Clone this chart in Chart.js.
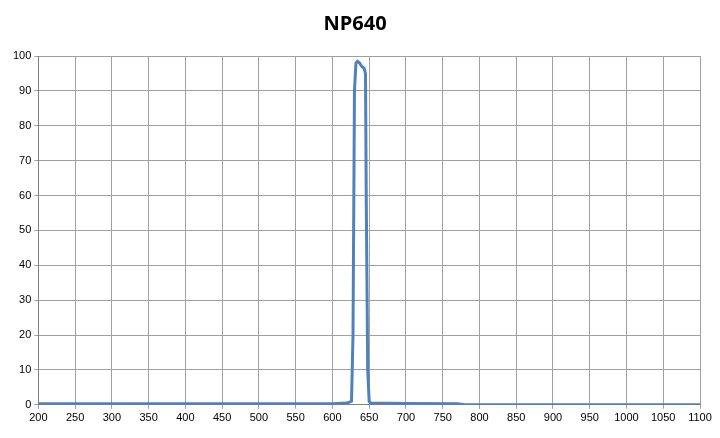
<!DOCTYPE html>
<html>
<head>
<script src="https://cdn.jsdelivr.net/npm/chart.js"></script>
<style>
  body { margin: 0; background: #fff; }
  #wrap { width: 720px; height: 438px; }
</style>
</head>
<body>
<div id="wrap"><canvas id="myChart" width="720" height="438"></canvas></div>
<script>
var wavelengths = [200, 600, 620, 626, 628, 630, 632, 634, 637, 640, 643, 645, 646, 648, 650, 652, 700, 770, 780, 1100];
var transmission = [0.3, 0.3, 0.5, 1, 20, 90, 98, 98.5, 98, 97, 96.5, 95, 60, 10, 1, 0.5, 0.4, 0.3, 0, 0];

var points = [];
for (var i = 0; i < wavelengths.length; i++) {
  points.push({ x: wavelengths[i], y: transmission[i] });
}

new Chart(document.getElementById("myChart").getContext("2d"), {
  type: 'line',
  data: {
    datasets: [{
      data: points,
      borderColor: '#4f81bd',
      borderWidth: 3,
      pointRadius: 0,
      tension: 0,
      fill: false
    }]
  },
  options: {
    responsive: false,
    animation: false,
    layout: { padding: { left: 10, right: 20, top: 4, bottom: 10 } },
    plugins: {
      legend: { display: false },
      title: {
        display: true,
        text: 'NP640',
        color: '#000',
        font: { family: 'Open Sans', size: 20, weight: 'bold' },
        padding: { top: 8, bottom: 20 }
      }
    },
    scales: {
      x: {
        type: 'linear',
        min: 200,
        max: 1100,
        ticks: { stepSize: 50, color: '#000', font: { family: 'Liberation Sans', size: 11 }, maxRotation: 0,
                 callback: function(v) { return String(v); } },
        grid: { color: '#a0a0a0', tickLength: 4 },
        border: { color: '#808080' }
      },
      y: {
        min: 0,
        max: 100,
        ticks: { stepSize: 10, color: '#000', font: { family: 'Liberation Sans', size: 11 } },
        grid: { color: '#a0a0a0', tickLength: 4 },
        border: { color: '#808080' }
      }
    }
  }
});
</script>
</body>
</html>
